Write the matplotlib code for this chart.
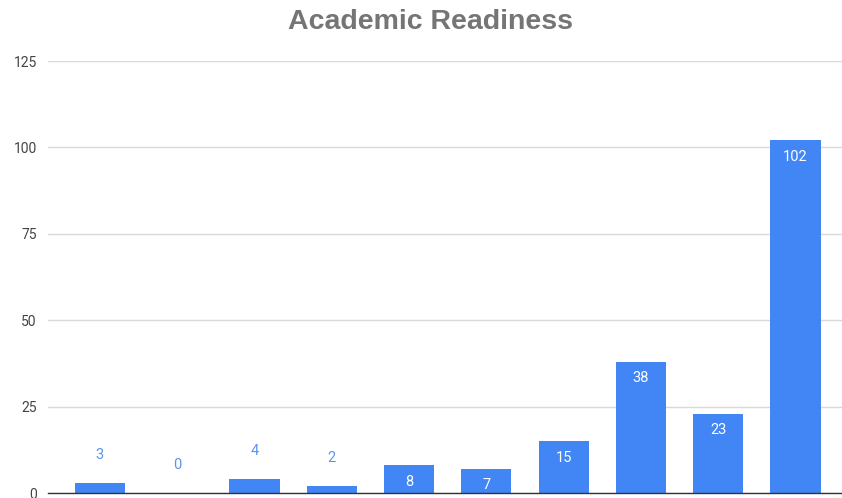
import numpy as np
import matplotlib
matplotlib.use('Agg')
import matplotlib.pyplot as plt

plt.rcParams['font.family'] = ['Roboto', 'DejaVu Sans']

categories = ['1', '2', '3', '4', '5', '6', '7', '8', '9', '10']
counts = [3, 0, 4, 2, 8, 7, 15, 38, 23, 102]
yticks = [0, 25, 50, 75, 100, 125]

bar_color = '#4285F4'

fig = plt.figure(figsize=(8.42, 4.98), dpi=100)
ax = fig.add_axes([0.057, 0.010, 0.943, 0.8675])

x = np.arange(len(categories))
ax.bar(x, counts, width=0.65, color=bar_color, zorder=3)

ax.set_ylim(0, 125)
ax.set_xlim(-0.67, 9.6)
ax.set_yticks(yticks)
ax.set_yticklabels([str(t) for t in yticks], fontsize=10, color='#444444')
ax.set_xticks([])
ax.tick_params(axis='y', length=0, pad=8)

ax.grid(axis='y', color='#d9d9d9', linewidth=1, zorder=0)
for s in ['top', 'right', 'left']:
    ax.spines[s].set_visible(False)
ax.spines['bottom'].set_color('#333333')
ax.spines['bottom'].set_linewidth(1)
ax.spines['bottom'].set_zorder(4)

for xi, v in zip(x, counts):
    if v >= 7:
        ax.annotate(str(v), (xi, v), xytext=(0, -12), textcoords='offset points',
                    ha='center', va='center', fontsize=10.5, color='white', zorder=5)
    else:
        ax.annotate(str(v), (xi, v), xytext=(0, 20), textcoords='offset points',
                    ha='center', va='center', fontsize=10.5, color='#5b93f2', zorder=5)

fig.text(430 / 842, 1 - 22 / 498, 'Academic Readiness', ha='center', va='center',
         fontsize=20.5, fontweight='bold', color='#757575',
         family=['Liberation Sans', 'DejaVu Sans'])

fig.savefig('out.png', dpi=100)
